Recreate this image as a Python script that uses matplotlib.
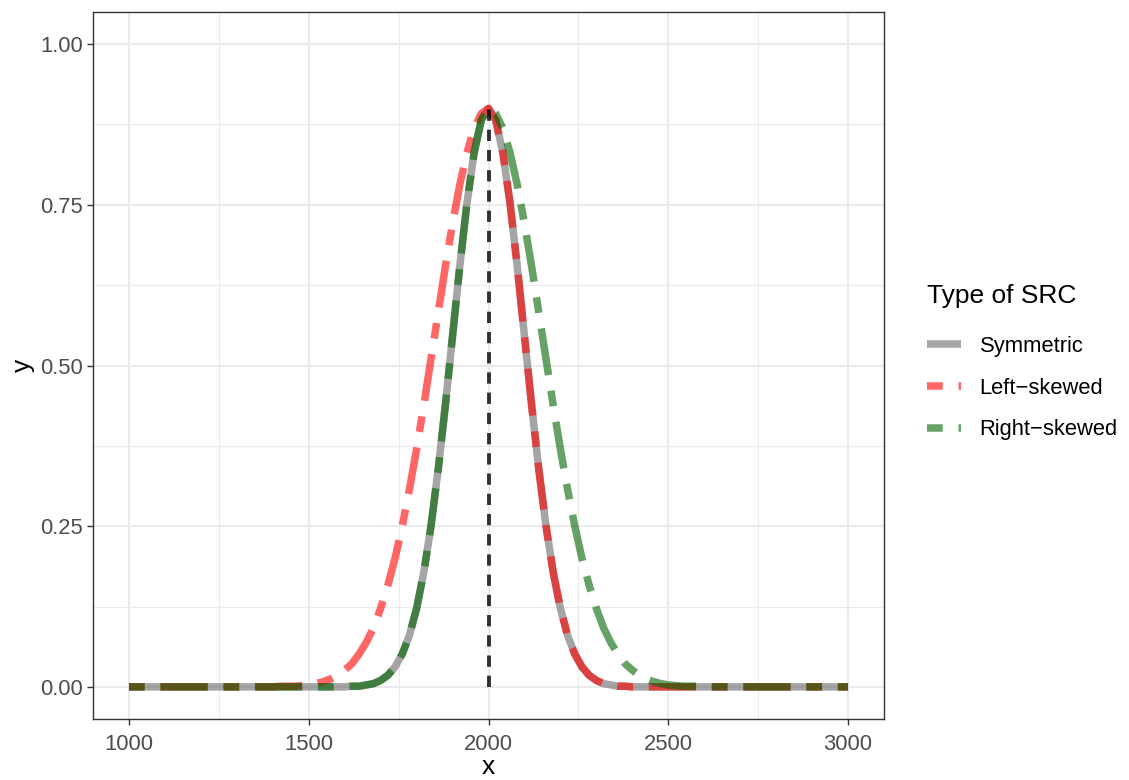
import numpy as np
import matplotlib
matplotlib.use("Agg")
import matplotlib.pyplot as plt
from matplotlib.lines import Line2D

plt.rcParams['font.family'] = ['Liberation Sans', 'DejaVu Sans']

# Sample positions along the x axis
x = np.arange(1000, 3001, 20)

# Stage-response curves sampled every 20 units (101 points each)
symmetric = [
    0, 0, 0, 0, 0, 0, 0, 0, 0, 0,
    0, 0, 0, 0, 0, 0, 0, 0, 0, 0,
    0, 0, 0, 0, 0, 0, 0, 0, 0, 0,
    0.000, 0.001, 0.001, 0.003, 0.005, 0.010, 0.018, 0.031, 0.051, 0.080,
    0.122, 0.178, 0.250, 0.338, 0.438, 0.546, 0.654, 0.752, 0.831, 0.882,
    0.900,
    0.882, 0.831, 0.752, 0.654, 0.546, 0.438, 0.338, 0.250, 0.178, 0.122,
    0.080, 0.051, 0.031, 0.018, 0.010, 0.005, 0.003, 0.001, 0.001, 0.000,
    0, 0, 0, 0, 0, 0, 0, 0, 0, 0,
    0, 0, 0, 0, 0, 0, 0, 0, 0, 0,
    0, 0, 0, 0, 0, 0, 0, 0, 0, 0,
]

left_skewed = [
    0, 0, 0, 0, 0, 0, 0, 0, 0, 0,
    0, 0, 0, 0, 0, 0, 0, 0, 0, 0,
    0.000, 0.001, 0.001, 0.001, 0.002, 0.003, 0.005, 0.008, 0.012, 0.018,
    0.026, 0.036, 0.051, 0.069, 0.092, 0.122, 0.158, 0.200, 0.250, 0.307,
    0.370, 0.438, 0.510, 0.582, 0.654, 0.721, 0.781, 0.831, 0.869, 0.892,
    0.900,
    0.882, 0.831, 0.752, 0.654, 0.546, 0.438, 0.338, 0.250, 0.178, 0.122,
    0.080, 0.051, 0.031, 0.018, 0.010, 0.005, 0.003, 0.001, 0.001, 0.000,
    0, 0, 0, 0, 0, 0, 0, 0, 0, 0,
    0, 0, 0, 0, 0, 0, 0, 0, 0, 0,
    0, 0, 0, 0, 0, 0, 0, 0, 0, 0,
]

right_skewed = [
    0, 0, 0, 0, 0, 0, 0, 0, 0, 0,
    0, 0, 0, 0, 0, 0, 0, 0, 0, 0,
    0, 0, 0, 0, 0, 0, 0, 0, 0, 0,
    0.000, 0.001, 0.001, 0.003, 0.005, 0.010, 0.018, 0.031, 0.051, 0.080,
    0.122, 0.178, 0.250, 0.338, 0.438, 0.546, 0.654, 0.752, 0.831, 0.882,
    0.900,
    0.892, 0.869, 0.831, 0.781, 0.721, 0.654, 0.582, 0.510, 0.438, 0.370,
    0.307, 0.250, 0.200, 0.158, 0.122, 0.092, 0.069, 0.051, 0.036, 0.026,
    0.018, 0.012, 0.008, 0.005, 0.003, 0.002, 0.001, 0.001, 0.001, 0.000,
    0, 0, 0, 0, 0, 0, 0, 0, 0, 0,
    0, 0, 0, 0, 0, 0, 0, 0, 0, 0,
]

peak_x = 2000
peak_y = 0.900

series_labels = ["Symmetric", "Left\u2212skewed", "Right\u2212skewed"]
legend_title = "Type of SRC"
x_ticks = [1000, 1500, 2000, 2500, 3000]
y_ticks = [0.00, 0.25, 0.50, 0.75, 1.00]
y_tick_labels = ["0.00", "0.25", "0.50", "0.75", "1.00"]

W, H = 1129, 780
fig = plt.figure(figsize=(W / 100, H / 100), dpi=100)
ax = fig.add_axes([93 / W, (H - 719) / H, (884 - 93) / W, (719 - 12) / H])

LW = 5.4
twodash = (0, (2.1, 2.1, 6.3, 2.1))

ax.plot(x, symmetric, color="dimgrey", alpha=0.6, lw=LW,
        solid_capstyle="butt", zorder=3)
ax.plot(x, left_skewed, color="red", alpha=0.6, lw=LW, linestyle=twodash,
        dash_capstyle="butt", zorder=4)
ax.plot(x, right_skewed, color="darkgreen", alpha=0.6, lw=LW, linestyle=twodash,
        dash_capstyle="butt", zorder=5)
ax.plot([peak_x, peak_x], [0, peak_y], color="black", alpha=0.8, lw=2.8,
        linestyle=(0, (2.9, 2.3)), dash_capstyle="butt", zorder=6)

ax.set_xlim(900, 3100)
ax.set_ylim(-0.05, 1.05)
ax.set_xticks(x_ticks)
ax.set_yticks(y_ticks)
ax.set_yticklabels(y_tick_labels)
ax.set_xticks([1250, 1750, 2250, 2750], minor=True)
ax.set_yticks([0.125, 0.375, 0.625, 0.875], minor=True)

ax.grid(which="major", color="#EBEBEB", lw=1.5, zorder=0)
ax.grid(which="minor", color="#EBEBEB", lw=0.75, zorder=0)
ax.set_axisbelow(True)
for s in ax.spines.values():
    s.set_color("#333333")
    s.set_linewidth(1.0)
ax.tick_params(which="major", length=4, width=1.0, color="#333333",
               labelsize=15.8, labelcolor="#4D4D4D", pad=3)
ax.tick_params(axis="x", which="major", pad=7)
ax.tick_params(which="minor", length=0)

ax.set_xlabel("x", fontsize=19, color="black", labelpad=0)
ax.set_ylabel("y", fontsize=19, color="black", labelpad=4)

handles = [
    Line2D([], [], color="dimgrey", alpha=0.6, lw=LW, solid_capstyle="butt"),
    Line2D([], [], color="red", alpha=0.6, lw=LW, linestyle=twodash, dash_capstyle="butt"),
    Line2D([], [], color="darkgreen", alpha=0.6, lw=LW, linestyle=twodash, dash_capstyle="butt"),
]
leg = fig.legend(handles, series_labels, title=legend_title, loc="upper left",
                 bbox_to_anchor=(927 / W, 1 - 284 / H), frameon=False,
                 fontsize=15.8, title_fontsize=19, handlelength=1.55,
                 handletextpad=0.85, labelspacing=0.95, borderaxespad=0,
                 borderpad=0)
leg._legend_box.align = "left"
leg._legend_box.sep = 20

fig.savefig("out.png", dpi=100)
